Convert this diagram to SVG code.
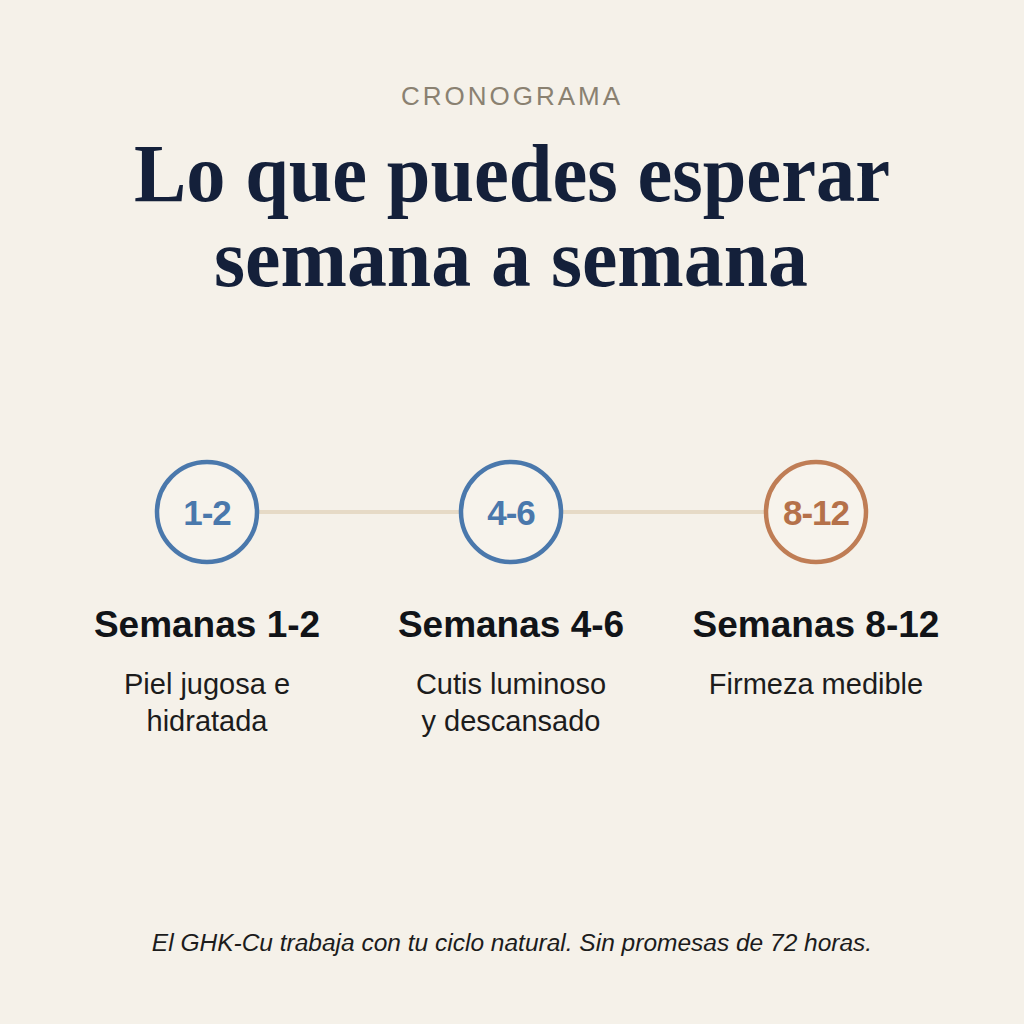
<svg xmlns="http://www.w3.org/2000/svg" width="1024" height="1024" viewBox="0 0 1024 1024">
<style>
.eyebrow{font-family:"Liberation Sans",Arial,sans-serif;font-size:26px;fill:#8a8171;letter-spacing:3px;text-anchor:middle}
.title{font-family:"Liberation Serif","Times New Roman",serif;font-weight:bold;font-size:82px;fill:#14203a;text-anchor:middle}
.num{font-family:"Liberation Sans",Arial,sans-serif;font-weight:bold;font-size:35px;letter-spacing:-1px;text-anchor:middle}
.head{font-family:"Liberation Sans",Arial,sans-serif;font-weight:bold;font-size:37px;fill:#111418;text-anchor:middle}
.desc{font-family:"Liberation Sans",Arial,sans-serif;font-size:29px;fill:#1c1c1c;text-anchor:middle}
.foot{font-family:"Liberation Sans",Arial,sans-serif;font-style:italic;font-size:24.5px;fill:#1c1c1c;text-anchor:middle}
.ring{fill:#f7f3ec;stroke-width:4.5}
.blue{stroke:#4a78ac}
.copper{stroke:#bf7d55}
</style>
<rect width="1024" height="1024" fill="#f5f1e9"/>
<text class="eyebrow" x="512" y="105">CRONOGRAMA</text>
<text class="title" x="512" y="201" textLength="756" lengthAdjust="spacingAndGlyphs">Lo que puedes esperar</text>
<text class="title" x="511" y="286" textLength="594" lengthAdjust="spacingAndGlyphs">semana a semana</text>
<g id="connectors">
<line x1="259" y1="512" x2="460" y2="512" stroke="#e6dac6" stroke-width="4"/>
<line x1="563" y1="512" x2="765" y2="512" stroke="#e6dac6" stroke-width="4"/>
</g>
<g id="node1">
<circle class="ring blue" cx="207" cy="512" r="50"/>
<text class="num" x="207" y="525" fill="#4a78ac">1-2</text>
<text class="head" x="207" y="637">Semanas 1-2</text>
<text class="desc" x="207" y="694">Piel jugosa e</text>
<text class="desc" x="207" y="731">hidratada</text>
</g>
<g id="node2">
<circle class="ring blue" cx="511" cy="512" r="50"/>
<text class="num" x="511" y="525" fill="#4a78ac">4-6</text>
<text class="head" x="511" y="637">Semanas 4-6</text>
<text class="desc" x="511" y="694">Cutis luminoso</text>
<text class="desc" x="511" y="731">y descansado</text>
</g>
<g id="node3">
<circle class="ring copper" cx="816" cy="512" r="50"/>
<text class="num" x="816" y="525" fill="#b5714a">8-12</text>
<text class="head" x="816" y="637">Semanas 8-12</text>
<text class="desc" x="816" y="694">Firmeza medible</text>
</g>
<text class="foot" x="512" y="951">El GHK-Cu trabaja con tu ciclo natural. Sin promesas de 72 horas.</text>
</svg>
